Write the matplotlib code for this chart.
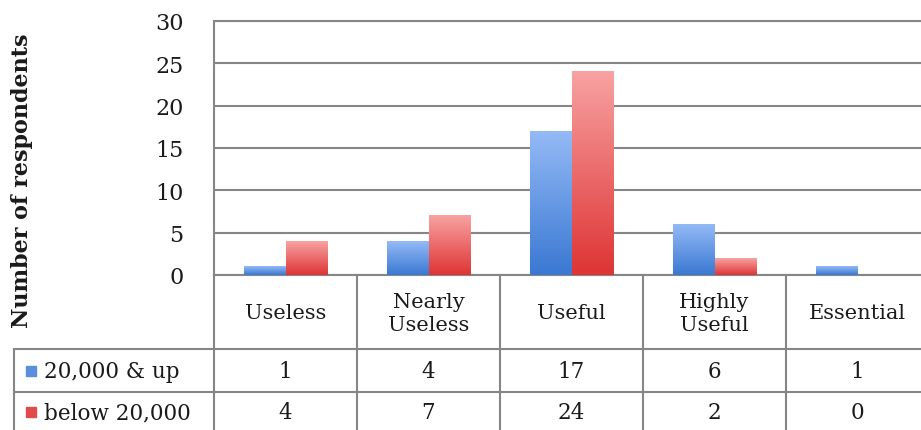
import numpy as np
import matplotlib
matplotlib.use("Agg")
from matplotlib import pyplot as plt
from matplotlib.colors import LinearSegmentedColormap
from matplotlib.patches import Rectangle

# Data
categories = ["Useless", "Nearly\nUseless", "Useful", "Highly\nUseful", "Essential"]
series_names = ["20,000 & up", "below 20,000"]
up_20k = [1, 4, 17, 6, 1]
below_20k = [4, 7, 24, 2, 0]
y_ticks = [0, 5, 10, 15, 20, 25, 30]

# colours (top of bar -> bottom of bar)
blue_top, blue_bottom = "#94baf6", "#3a78d2"
red_top, red_bottom = "#f8a2a2", "#de3434"
line_col = "#868686"
text_col = "#1a1a1a"

plt.rcParams["font.family"] = ["DejaVu Serif"]

W, H = 921, 431
fig = plt.figure(figsize=(W / 100, H / 100), dpi=100)

# plot area (right edge runs a little past the picture, as in the original)
col_px = 143
left_px, top_px, zero_px = 214, 22, 276
ax = fig.add_axes([left_px / W, (H - zero_px) / H, 5 * col_px / W, (zero_px - top_px) / H])

x = np.arange(len(categories))
bw = 0.287
bars_up = ax.bar(x - bw / 2, up_20k, width=bw, color=blue_bottom, zorder=3)
bars_low = ax.bar(x + bw / 2, below_20k, width=bw, color=red_bottom, zorder=3)


def gradient_fill(ax, bars, top, bottom):
    cmap = LinearSegmentedColormap.from_list("g", [bottom, top])
    grad = np.linspace(0, 1, 256).reshape(-1, 1)
    for p in bars:
        h = p.get_height()
        if h <= 0:
            continue
        x0 = p.get_x()
        ax.imshow(grad, cmap=cmap, origin="lower", aspect="auto", zorder=3,
                  extent=(x0, x0 + p.get_width(), 0, h), interpolation="bilinear")
        p.set_visible(False)


gradient_fill(ax, bars_up, blue_top, blue_bottom)
gradient_fill(ax, bars_low, red_top, red_bottom)

ax.set_xlim(-0.5, len(categories) - 0.5)
ax.set_ylim(0, 30)
ax.set_yticks(y_ticks)
ax.set_xticks([])
ax.tick_params(axis="y", length=0, pad=22, labelsize=16, labelcolor=text_col)
ax.yaxis.grid(True, color=line_col, lw=1.5, zorder=0)
ax.set_axisbelow(True)
for s in ["top", "left", "bottom"]:
    ax.spines[s].set_color(line_col)
    ax.spines[s].set_linewidth(1.5)
ax.spines["right"].set_visible(False)

fig.text(22 / W, (H - 181) / H, "Number of respondents", rotation=90, ha="center", va="center",
         fontsize=16, fontweight="bold", color=text_col)

# data table under the plot
label_w = (left_px - 14) / col_px
tax = fig.add_axes([14 / W, 0, (5 * col_px + left_px - 14) / W, (H - zero_px) / H])
tax.set_xlim(-0.5 - label_w, len(categories) - 0.5)
tax.set_ylim(H - zero_px, 0)
tax.axis("off")

row_tops = [0, 74, 117]
row_bot = 170
lkw = dict(color=line_col, lw=1.5, clip_on=False)
tax.plot([-0.5 - label_w, len(categories) - 0.5], [row_tops[1]] * 2, **lkw)
tax.plot([-0.5 - label_w, len(categories) - 0.5], [row_tops[2]] * 2, **lkw)
tax.plot([-0.5 - label_w] * 2, [row_tops[1], row_bot], **lkw)
for i in range(len(categories)):
    tax.plot([i - 0.5] * 2, [0, row_bot], **lkw)

header_y = 38
row_y = [96, 137]
for i, cat in enumerate(categories):
    tax.text(i, header_y, cat, ha="center", va="center", fontsize=15, color=text_col,
             linespacing=1.3)
for r, (name, vals, col) in enumerate(zip(series_names, [up_20k, below_20k],
                                          ["#5b8fdb", "#e04a4a"])):
    for i, v in enumerate(vals):
        tax.text(i, row_y[r], str(v), ha="center", va="center", fontsize=15.5, color=text_col)
    tax.add_patch(Rectangle((-0.5 - label_w + 12 / col_px, row_y[r] - 5), 10 / col_px, 10,
                            color=col, clip_on=False))
    tax.text(-0.5 - label_w + 30 / col_px, row_y[r], name, ha="left", va="center",
             fontsize=15.5, color=text_col)

fig.savefig("out.png", dpi=100)
